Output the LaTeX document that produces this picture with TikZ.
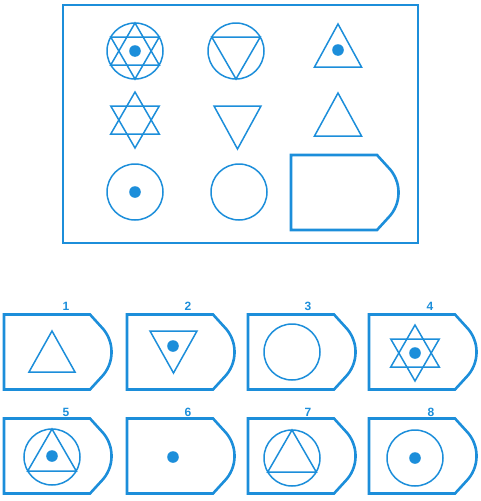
\documentclass[tikz,border=0pt]{standalone}
\usepackage{fontspec}
\setmainfont{Liberation Sans}
\definecolor{pblue}{RGB}{28,142,218}
\tikzset{
  frame/.style={draw=pblue,line width=2.6pt},
  boxline/.style={draw=pblue,line width=2.6pt,line join=miter},
  thin/.style={draw=pblue,line width=1.5pt,line join=miter},
  dotf/.style={fill=pblue},
  lab/.style={text=pblue,font=\fontsize{12}{14}\selectfont\bfseries,inner sep=0pt}
}
% option box: #1 left x, #2 top y, height 75
\newcommand\optbox[2]{%
  \draw[boxline] (#1+86,#2) -- (#1,#2) -- (#1,#2+75) -- (#1+86,#2+75)
    -- (#1+97,#2+63) arc[start angle=45,end angle=-45,radius=36] -- cycle;}
\newcommand\hexa[2]{%
  \draw[thin] (#1,#2-28) -- (#1+24.25,#2+14) -- (#1-24.25,#2+14) -- cycle;
  \draw[thin] (#1,#2+28) -- (#1+24.25,#2-14) -- (#1-24.25,#2-14) -- cycle;}
\newcommand\uptri[2]{%
  \draw[thin] (#1,#2-28) -- (#1+24.25,#2+14) -- (#1-24.25,#2+14) -- cycle;}
\newcommand\dntri[2]{%
  \draw[thin] (#1,#2+28) -- (#1+24.25,#2-14) -- (#1-24.25,#2-14) -- cycle;}
\newcommand\ring[2]{\draw[thin] (#1,#2) circle[radius=28];}
\newcommand\pdot[2]{\fill[dotf] (#1,#2) circle[radius=5.8];}
\begin{document}
\begin{tikzpicture}[x=1pt,y=-1pt]
\useasboundingbox (0,0) rectangle (480,501);
% main frame
\draw[frame] (63,5) rectangle (418,243);
% row 1
\ring{135}{51}\hexa{135}{51}\pdot{135}{51}
\ring{236}{51}\dntri{236}{51}
\draw[thin] (338,24) -- (361.5,67) -- (314.5,67) -- cycle;
\pdot{338}{50}
% row 2
\hexa{135}{120}
\draw[thin] (214,106) -- (261,106) -- (237.5,149) -- cycle;
\draw[thin] (338,93) -- (361.5,136) -- (314.5,136) -- cycle;
% row 3
\ring{135}{192}\pdot{135}{192}
\ring{239}{192}
\optbox{291}{155}
% options row 1
\optbox{4}{314.5}
\optbox{127}{314.5}
\optbox{248}{314.5}
\optbox{369}{314.5}
\node[lab] (l1) at (66,306) {1};
\node[lab] (l2) at (188,306) {2};
\node[lab] (l3) at (308,306) {3};
\node[lab] (l4) at (430,306) {4};
\draw[thin] (52,331) -- (75,372) -- (29,372) -- cycle;
\draw[thin] (150,331) -- (197,331) -- (173.5,373) -- cycle;
\pdot{173}{346}
\ring{292}{352}
\hexa{415}{353}\pdot{415}{353}
% options row 2
\optbox{4}{418.5}
\optbox{127}{418.5}
\optbox{248}{418.5}
\optbox{369}{418.5}
\node[lab] (l5) at (66,412) {5};
\node[lab] (l6) at (188,412) {6};
\node[lab] (l7) at (308,412) {7};
\node[lab] (l8) at (431,412) {8};
\ring{52}{457}\uptri{52}{457}\pdot{52}{456}
\pdot{173}{457}
\ring{292}{458}\uptri{292}{458}
\ring{415}{458}\pdot{415}{458}
\end{tikzpicture}
\end{document}
